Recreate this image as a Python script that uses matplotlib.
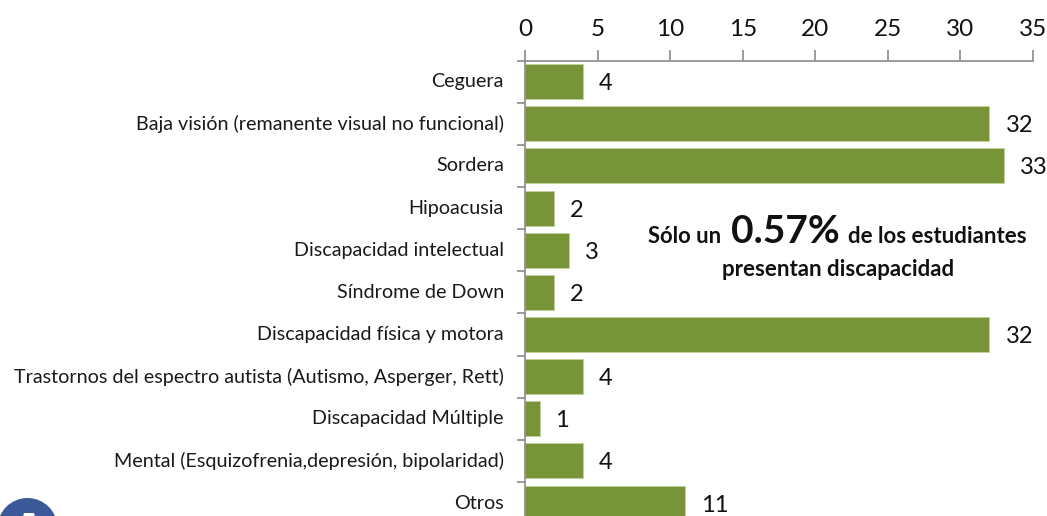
import matplotlib
matplotlib.use('Agg')
import matplotlib.pyplot as plt
from matplotlib.patches import Circle, FancyBboxPatch

plt.rcParams['font.family'] = ['Lato', 'DejaVu Sans']

categories = ['Ceguera', 'Baja visión (remanente visual no funcional)', 'Sordera', 'Hipoacusia',
              'Discapacidad intelectual', 'Síndrome de Down', 'Discapacidad física y motora',
              'Trastornos del espectro autista (Autismo, Asperger, Rett)', 'Discapacidad Múltiple',
              'Mental (Esquizofrenia,depresión, bipolaridad)', 'Otros']
values = [4, 32, 33, 2, 3, 2, 32, 4, 1, 4, 11]
xticks = [0, 5, 10, 15, 20, 25, 30, 35]

W, H = 1047, 516
fig = plt.figure(figsize=(W / 100, H / 100), dpi=100)

# axes runs past the bottom of the picture, like the cropped original
left, right, top = 525, 1033, 60.5
step = 42.15
bottom = top + step * len(values)
ax = fig.add_axes([left / W, 1 - bottom / H, (right - left) / W, (bottom - top) / H])

pos = list(range(len(values)))
ax.barh(pos, values, height=0.83, color='#779439', edgecolor='#c3d19c', linewidth=0.6)
ax.set_ylim(len(values) - 0.5, -0.5)
ax.set_xlim(0, 35)

ax.xaxis.tick_top()
ax.set_xticks(xticks)
ax.tick_params(axis='x', length=8, width=1.2, color='#8a8a8a', labelsize=17.5, labelcolor='#111111', pad=7)

# ticks sit between the categories, labels on the centres
ax.set_yticks([p - 0.5 for p in pos] + [len(values) - 0.5])
ax.set_yticklabels([])
ax.tick_params(axis='y', length=6, width=1.2, color='#8a8a8a')
for p, c in zip(pos, categories):
    ax.annotate(c, (0, p), xytext=(-21, 0), textcoords='offset pixels', ha='right', va='center',
                fontsize=14.2, color='#1a1a1a', annotation_clip=False)

for s in ['right', 'bottom']:
    ax.spines[s].set_visible(False)
for s in ['left', 'top']:
    ax.spines[s].set_color('#8a8a8a')
    ax.spines[s].set_linewidth(1.2)

for p, v in zip(pos, values):
    ax.annotate(str(v), (v, p), xytext=(16, -2), textcoords='offset pixels', ha='left', va='center',
                fontsize=17, color='#111111', annotation_clip=False)

# note
fig.text(648 / W, 1 - 243 / H, 'Sólo un', fontsize=15.8, fontweight='bold', color='#111111', ha='left', va='baseline')
fig.text(731 / W, 1 - 243 / H, '0.57%', fontsize=28, fontweight='bold', color='#111111', ha='left', va='baseline')
fig.text(848 / W, 1 - 243 / H, 'de los estudiantes', fontsize=16, fontweight='bold', color='#111111', ha='left', va='baseline')
fig.text(838 / W, 1 - 276 / H, 'presentan discapacidad', fontsize=16, fontweight='bold', color='#111111', ha='center', va='baseline')

# facebook badge cut by the lower edge
bg = fig.add_axes([0, 0, 1, 1], zorder=5)
bg.set_xlim(0, W)
bg.set_ylim(H, 0)
bg.axis('off')
bg.add_patch(Circle((27.5, 528), 30, color='#3b5998', lw=0))
bg.add_patch(FancyBboxPatch((25, 514.5), 8, 4, boxstyle='round,pad=1.5', color='white', lw=0))

fig.savefig('out.png', dpi=100)
